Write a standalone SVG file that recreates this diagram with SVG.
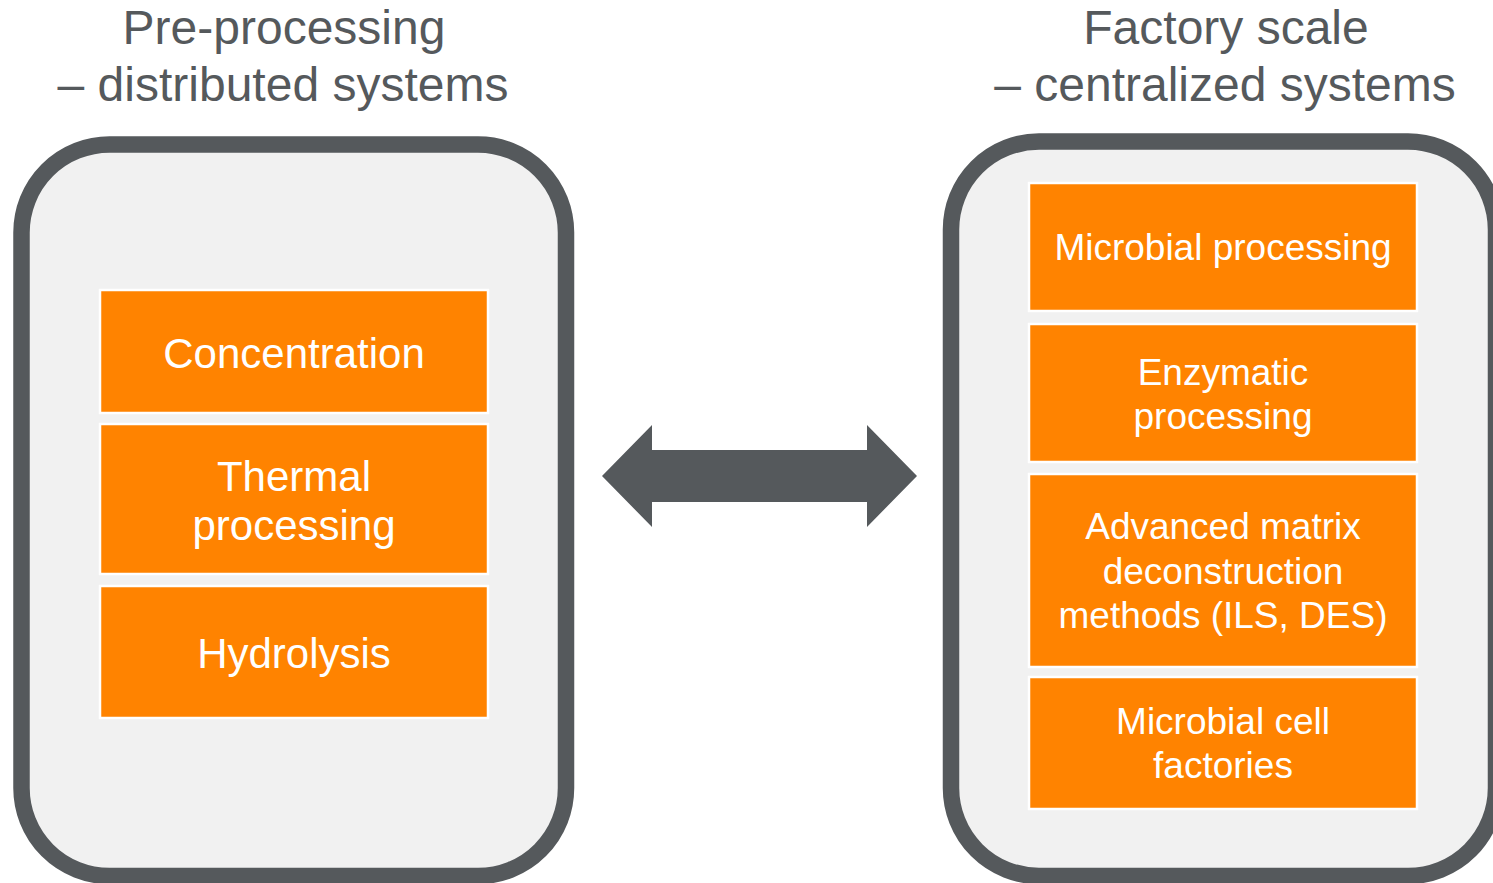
<svg xmlns="http://www.w3.org/2000/svg" width="1493" height="883" viewBox="0 0 1493 883">
<style>
.panel{fill:#F1F1F1;stroke:#55595C;stroke-width:16.5}
.box{fill:#FF8300;stroke:#FFFFFF;stroke-width:2.5}
.title{font-family:"Liberation Sans",Arial,sans-serif;font-size:48px;fill:#55595C;text-anchor:middle}
.lbl{font-family:"Liberation Sans",Arial,sans-serif;fill:#FFFFFF;text-anchor:middle}
.l42{font-size:42px}
.l37{font-size:37px}
</style>
<rect width="1493" height="883" fill="#FFFFFF"/>
<g id="title-left">
<text class="title" x="284" y="44">Pre-processing</text>
<text class="title" x="283" y="101">– distributed systems</text>
</g>
<g id="title-right">
<text class="title" x="1226" y="44">Factory scale</text>
<text class="title" x="1225" y="101">– centralized systems</text>
</g>
<g id="panel-left">
<rect class="panel" x="21.5" y="144.5" width="544.5" height="731.5" rx="88" ry="88"/>
</g>
<g id="panel-right">
<rect class="panel" x="951" y="141.5" width="545" height="734.5" rx="88" ry="88"/>
</g>
<g id="concentration">
<rect class="box" x="100" y="290" width="388" height="123"/>
<text class="lbl l42" x="294" y="368">Concentration</text>
</g>
<g id="thermal">
<rect class="box" x="100" y="424" width="388" height="150"/>
<text class="lbl l42" x="294" y="491">Thermal</text>
<text class="lbl l42" x="294" y="540">processing</text>
</g>
<g id="hydrolysis">
<rect class="box" x="100" y="586" width="388" height="132"/>
<text class="lbl l42" x="294" y="668">Hydrolysis</text>
</g>
<g id="microbial-processing">
<rect class="box" x="1029" y="183" width="388" height="128"/>
<text class="lbl l37" x="1223" y="260">Microbial processing</text>
</g>
<g id="enzymatic">
<rect class="box" x="1029" y="324" width="388" height="138"/>
<text class="lbl l37" x="1223" y="385">Enzymatic</text>
<text class="lbl l37" x="1223" y="429">processing</text>
</g>
<g id="advanced">
<rect class="box" x="1029" y="474" width="388" height="193"/>
<text class="lbl l37" x="1223" y="539">Advanced matrix</text>
<text class="lbl l37" x="1223" y="584">deconstruction</text>
<text class="lbl l37" x="1223" y="628">methods (ILS, DES)</text>
</g>
<g id="cell-factories">
<rect class="box" x="1029" y="677" width="388" height="132"/>
<text class="lbl l37" x="1223" y="734">Microbial cell</text>
<text class="lbl l37" x="1223" y="778">factories</text>
</g>
<g id="connectors">
<polygon points="602,476 652,425 652,450 867,450 867,425 917,476 867,527 867,502 652,502 652,527" fill="#55595C"/>
</g>
</svg>
